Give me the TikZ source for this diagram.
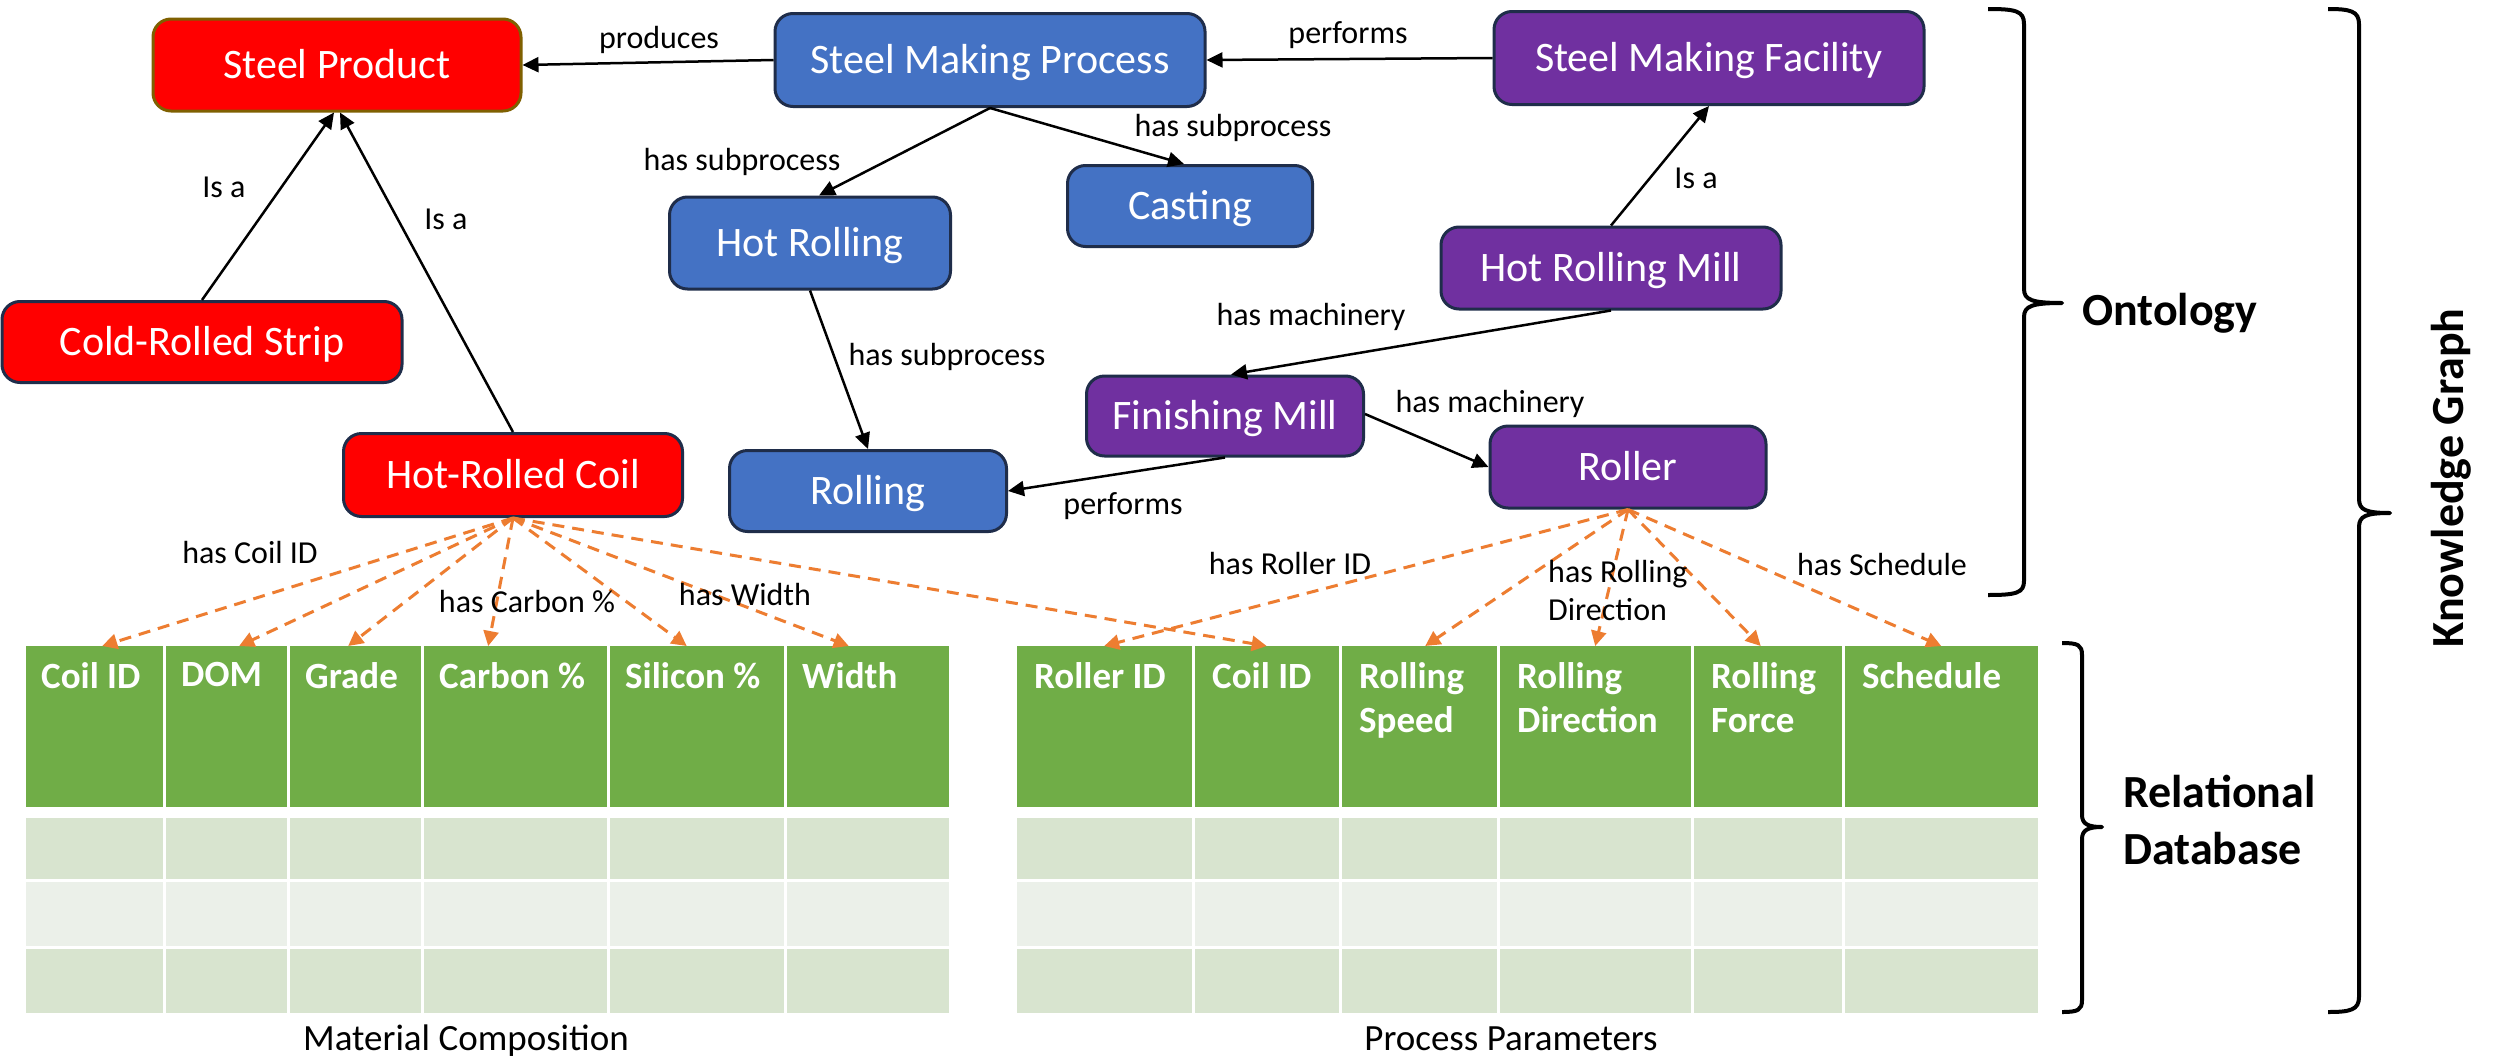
\documentclass[tikz,border=0pt]{standalone}
\usepackage{fontspec}
\setmainfont{Carlito}
\usetikzlibrary{arrows.meta,calc}
\definecolor{cRed}{HTML}{FF0000}
\definecolor{cBlue}{HTML}{4472C4}
\definecolor{cPurple}{HTML}{7030A0}
\definecolor{cNavy}{HTML}{1F2D4A}
\definecolor{cOlive}{HTML}{7F6000}
\definecolor{cGreen}{HTML}{70AD47}
\definecolor{cRowA}{HTML}{D8E4CF}
\definecolor{cRowB}{HTML}{EBF0E9}
\definecolor{cOrange}{HTML}{ED7D31}
\begin{document}
\begin{tikzpicture}[x=1pt,y=-1pt,
  ent/.style={rounded corners=18pt, draw=cNavy, line width=3pt, text=white,
    font=\fontsize{42}{50}\selectfont, inner sep=0pt, text height=27pt, text depth=1pt},
  redbox/.style={ent, fill=cRed},
  bluebox/.style={ent, fill=cBlue},
  purpbox/.style={ent, fill=cPurple},
  rel/.style={draw=black, line width=2.5pt, -{Triangle[length=16pt,width=15pt]}},
  attr/.style={draw=cOrange, line width=3pt, dash pattern=on 12pt off 8pt,
    -{Triangle[length=15pt,width=15pt]}},
  lbl/.style={font=\fontsize{32}{38}\selectfont, inner sep=0pt},
  hcell/.style={fill=cGreen, inner sep=0pt, anchor=north west, minimum height=161pt},
  htext/.style={text=white, font=\bfseries\fontsize{37}{44}\selectfont, align=left,
    anchor=north west, inner sep=0pt},
  bracestyle/.style={draw=black, line width=4pt, line join=round},
  sidetext/.style={font=\bfseries\fontsize{46}{57}\selectfont, inner sep=0pt, align=left},
  captext/.style={font=\fontsize{37}{44}\selectfont, inner sep=0pt, anchor=base}
]
\fill[white] (0,0) rectangle (2496,1060);
\useasboundingbox (0,0) rectangle (2496,1060);

% ---------- ontology nodes ----------
\node[redbox, draw=cOlive, minimum width=368pt, minimum height=92pt] (sp) at (337,65) {Steel Product};
\node[bluebox, minimum width=430pt, minimum height=93pt] (smp) at (990,60) {Steel Making Process};
\node[purpbox, minimum width=430pt, minimum height=93pt] (smf) at (1709,58) {Steel Making Facility};
\node[bluebox, minimum width=245pt, minimum height=81pt] (cast) at (1190,206) {Casting};
\node[bluebox, minimum width=281pt, minimum height=92pt] (hr) at (810,243) {Hot Rolling};
\node[purpbox, minimum width=340pt, minimum height=82pt] (hrm) at (1611,268) {Hot Rolling Mill};
\node[redbox, minimum width=400pt, minimum height=81pt] (crs) at (202,342) {Cold-Rolled Strip};
\node[redbox, minimum width=339pt, minimum height=83pt] (hrc) at (513,475) {Hot-Rolled Coil};
\node[bluebox, minimum width=277pt, minimum height=81pt] (roll) at (868,491) {Rolling};
\node[purpbox, minimum width=277pt, minimum height=80pt] (fm) at (1225,416) {Finishing Mill};
\node[purpbox, minimum width=276pt, minimum height=82pt] (roller) at (1628,467) {Roller};

% ---------- ontology relations ----------
\draw[rel] (smp.west) -- (sp.east);
\draw[rel] (smf.west) -- (smp.east);
\draw[rel] (smp.south) -- ($(hr.north)+(9,0)$);
\draw[rel] (smp.south) -- ($(cast.north)+(-6,0)$);
\draw[rel] (hr.south) -- (roll.north);
\draw[rel] (hrm.south) -- ($(fm.north)+(6,0)$);
\draw[rel] (hrm.north) -- (smf.south);
\draw[rel] ($(fm.east)+(0,-2)$) -- (roller.west);
\draw[rel] (fm.south) -- (roll.east);
\draw[rel] (crs.north) -- ($(sp.south)+(-3,0)$);
\draw[rel] (hrc.north) -- ($(sp.south)+(3,0)$);

\node[lbl] (l1) at (659,40) {produces};
\node[lbl] (l2) at (1348,35) {performs};
\node[lbl] (l3) at (742,162) {has subprocess};
\node[lbl] (l4) at (1233,128) {has subprocess};
\node[lbl] (l5) at (947,357) {has subprocess};
\node[lbl] (l6) at (224,187) {Is a};
\node[lbl] (l7) at (446,219) {Is a};
\node[lbl] (l8) at (1696,178) {Is a};
\node[lbl] (l9) at (1311,317) {has machinery};
\node[lbl] (l10) at (1490,404) {has machinery};
\node[lbl] (l11) at (1123,506) {performs};

% ---------- tables ----------
\foreach \n/\a/\b/\t in {1/24/164/{Coil ID}, 2/164/288/DOM, 3/288/422/Grade,
    4/422/608/{Carbon \%}, 5/608/785/{Silicon \%}, 6/785/950/Width} {
  \node[hcell, minimum width={\b-\a-3}] (lh\n) at (\a+1.5,646) {};
  \node[htext] (lt\n) at (\a+17,662) {\t};
  \fill[cRowA] (\a+1.5,818) rectangle (\b-1.5,878.5);
  \fill[cRowB] (\a+1.5,881.5) rectangle (\b-1.5,946);
  \fill[cRowA] (\a+1.5,949) rectangle (\b-1.5,1013);
}
\foreach \n/\a/\b/\t in {1/1015/1193/{Roller ID}, 2/1193/1340/{Coil ID},
    3/1340/1498/{Rolling\\Speed}, 4/1498/1692/{Rolling\\Direction},
    5/1692/1843/{Rolling\\Force}, 6/1843/2039/Schedule} {
  \node[hcell, minimum width={\b-\a-3}] (rh\n) at (\a+1.5,646) {};
  \node[htext] (rt\n) at (\a+19,662) {\t};
  \fill[cRowA] (\a+1.5,818) rectangle (\b-1.5,878.5);
  \fill[cRowB] (\a+1.5,881.5) rectangle (\b-1.5,946);
  \fill[cRowA] (\a+1.5,949) rectangle (\b-1.5,1013);
}
\node[captext] (capL) at (466,1050) {Material Composition};
\node[captext] (capR) at (1511,1050) {Process Parameters};

% ---------- attribute links ----------
\draw[attr] (hrc.south) -- ($(lh1.north)+(8,0)$);
\draw[attr] (hrc.south) -- ($(lh2.north)+(13,0)$);
\draw[attr] (hrc.south) -- ($(lh3.north)+(-7,0)$);
\draw[attr] (hrc.south) -- ($(lh4.north)+(-27,0)$);
\draw[attr] (hrc.south) -- ($(lh5.north)+(-10,0)$);
\draw[attr] (hrc.south) -- ($(lh6.north)+(-19,0)$);
\draw[attr] (hrc.south) -- (rh2.north);
\draw[attr] (roller.south) -- (rh1.north);
\draw[attr] (roller.south) -- ($(rh3.north)+(6,0)$);
\draw[attr] (roller.south) -- (rh4.north);
\draw[attr] (roller.south) -- ($(rh5.north)+(-7,0)$);
\draw[attr] (roller.south) -- (rh6.north);

\node[lbl] (a1) at (250,552) {has Coil ID};
\node[lbl] (a2) at (527,602) {has Carbon \%};
\node[lbl] (a3) at (745,594) {has Width};
\node[lbl] (a4) at (1290,563) {has Roller ID};
\node[lbl, align=left, anchor=north west] (a5) at (1548,560) {has Rolling\\Direction};
\node[lbl] (a6) at (1882,564) {has Schedule};

% ---------- braces ----------
\draw[bracestyle] (1988,9) .. controls (2016,9) and (2024,11) .. (2024,24)
  -- (2024,289) .. controls (2024,300) and (2032,303) .. (2062,303)
  .. controls (2032,303) and (2024,306) .. (2024,317)
  -- (2024,581) .. controls (2024,593) and (2016,595) .. (1988,595);
\draw[bracestyle] (2062,643) .. controls (2078,643) and (2082,645) .. (2082,655)
  -- (2082,815) .. controls (2082,824) and (2088,827) .. (2102,827)
  .. controls (2088,827) and (2082,830) .. (2082,839)
  -- (2082,1000) .. controls (2082,1010) and (2078,1012) .. (2062,1012);
\draw[bracestyle] (2328,9) .. controls (2350,9) and (2359,11) .. (2359,24)
  -- (2359,499) .. controls (2359,510) and (2366,513) .. (2390,513)
  .. controls (2366,513) and (2359,516) .. (2359,527)
  -- (2359,997) .. controls (2359,1010) and (2350,1012) .. (2328,1012);

\node[sidetext, anchor=base west] (onto) at (2082,325) {Ontology};
\node[sidetext, anchor=west] (rdb) at (2123,820) {Relational\\Database};
\node[sidetext, rotate=90, anchor=base] (kg) at (2463,478) {Knowledge Graph};
\end{tikzpicture}
\end{document}
